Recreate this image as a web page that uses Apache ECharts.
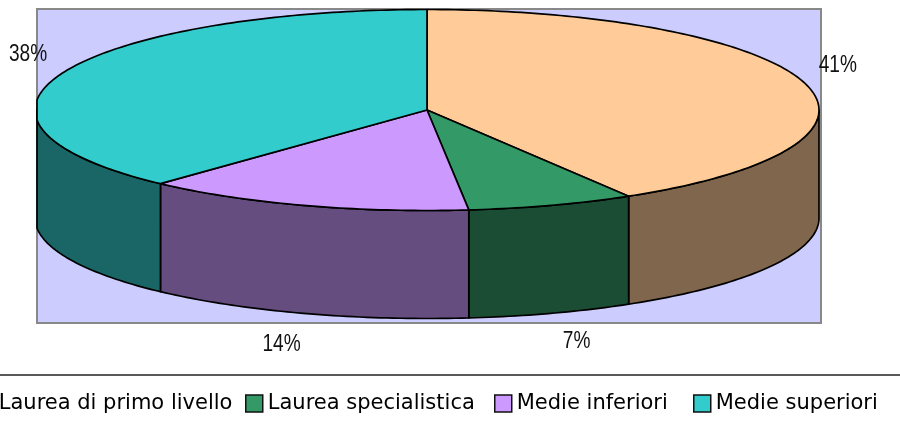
<!DOCTYPE html>
<html>
<head>
<meta charset="utf-8">
<style>html,body{margin:0;padding:0;background:#fff}#chart{width:900px;height:427px}</style>
<script src="https://cdn.jsdelivr.net/npm/echarts@6/dist/echarts.min.js"></script>
</head>
<body>
<div id="chart"></div>
<script>
// Titoli di studio: share of each level, clockwise from twelve o'clock
const categories = ['Laurea di primo livello', 'Laurea specialistica', 'Medie inferiori', 'Medie superiori'];
const shares = [41.4, 6.9, 13.6, 38.1];

const topColors = ['#FFCC99', '#339966', '#CC99FF', '#33CCCC'];
const wallColors = ['#80664D', '#1A4D33', '#664D80', '#1A6666'];
// Offset of each percentage label from the outer edge of its slice
const labelOffsets = [[33, -18], [25, 28.5], [-22, 31], [-34, -19]];
// Left edge of each legend entry; the row runs past the left side of the page
const legendLefts = [-24, 245, 494, 693];

// Disc geometry in axis units
const disc = { cx: 390, cy: 101, rx: 392, ry: 100.5, depth: 108 };
const plotW = 784, plotH = 314;

const total = shares.reduce((a, b) => a + b, 0);
const starts = shares.map((_, i) => shares.slice(0, i).reduce((a, b) => a + b, 0) / total * 360);

function rimPoint(api, deg, drop) {
  const t = deg * Math.PI / 180;
  const x = Math.max(0, Math.min(plotW, disc.cx + disc.rx * Math.sin(t)));
  const y = Math.max(0, disc.cy - disc.ry * Math.cos(t) + drop);
  return api.coord([x, y]);
}

function arc(api, from, to, drop) {
  const pts = [];
  const n = Math.max(2, Math.ceil(Math.abs(to - from)));
  for (let k = 0; k <= n; k++) pts.push(rimPoint(api, from + (to - from) * k / n, drop));
  return pts;
}

function sliceRenderer(i) {
  return function (params, api) {
    const a0 = starts[i];
    const a1 = a0 + shares[i] / total * 360;
    const children = [];
    const stroke = { stroke: '#000', lineWidth: 1.7, lineJoin: 'round' };

    // Front wall: only the part of the rim facing the viewer
    const w0 = Math.max(a0, 90), w1 = Math.min(a1, 270);
    if (w1 > w0) {
      children.push({
        type: 'polygon',
        shape: { points: arc(api, w0, w1, 0).concat(arc(api, w1, w0, disc.depth)) },
        style: Object.assign({ fill: wallColors[i] }, stroke)
      });
    }

    // Top face
    children.push({
      type: 'polygon',
      shape: { points: [api.coord([disc.cx, disc.cy])].concat(arc(api, a0, a1, 0)) },
      style: Object.assign({ fill: topColors[i] }, stroke)
    });

    // Percentage label, placed off the middle of the slice and condensed horizontally
    const mid = (a0 + a1) / 2;
    const anchor = rimPoint(api, mid, mid > 90 && mid < 270 ? disc.depth : 0);
    children.push({
      type: 'text',
      z2: 10,
      x: anchor[0] + labelOffsets[i][0],
      y: anchor[1] + labelOffsets[i][1],
      scaleX: 0.83,
      style: {
        text: Math.round(shares[i]) + '%',
        x: 0,
        y: 0,
        align: 'center',
        verticalAlign: 'middle',
        fill: '#111',
        font: '23px "Liberation Sans", sans-serif'
      }
    });
    return { type: 'group', children };
  };
}

const chart = echarts.init(document.getElementById('chart'), null, { renderer: 'canvas' });
chart.setOption({
  animation: false,
  backgroundColor: '#fff',
  grid: {
    show: true, left: 37, top: 9, width: plotW, height: plotH,
    backgroundColor: '#CCCCFF', borderColor: '#888', borderWidth: 2
  },
  xAxis: { type: 'value', min: 0, max: plotW, show: false },
  yAxis: { type: 'value', min: 0, max: plotH, inverse: true, show: false },
  legend: categories.map((name, i) => ({
    left: legendLefts[i], top: 393, selectedMode: false,
    icon: 'rect', itemWidth: 17, itemHeight: 17, padding: 0,
    itemStyle: { borderColor: '#111', borderWidth: 1.5 },
    textStyle: { fontFamily: '"DejaVu Sans", sans-serif', fontSize: 21, color: '#000' },
    data: [name]
  })),
  graphic: [{
    type: 'line', silent: true,
    shape: { x1: 0, y1: 375, x2: 900, y2: 375 },
    style: { stroke: '#222', lineWidth: 1.5 }
  }],
  series: categories.map((name, i) => ({
    type: 'custom',
    name,
    clip: false,
    silent: true,
    itemStyle: { color: topColors[i] },
    renderItem: sliceRenderer(i),
    data: [[0, 0, shares[i]]]
  }))
});
</script>
</body>
</html>
